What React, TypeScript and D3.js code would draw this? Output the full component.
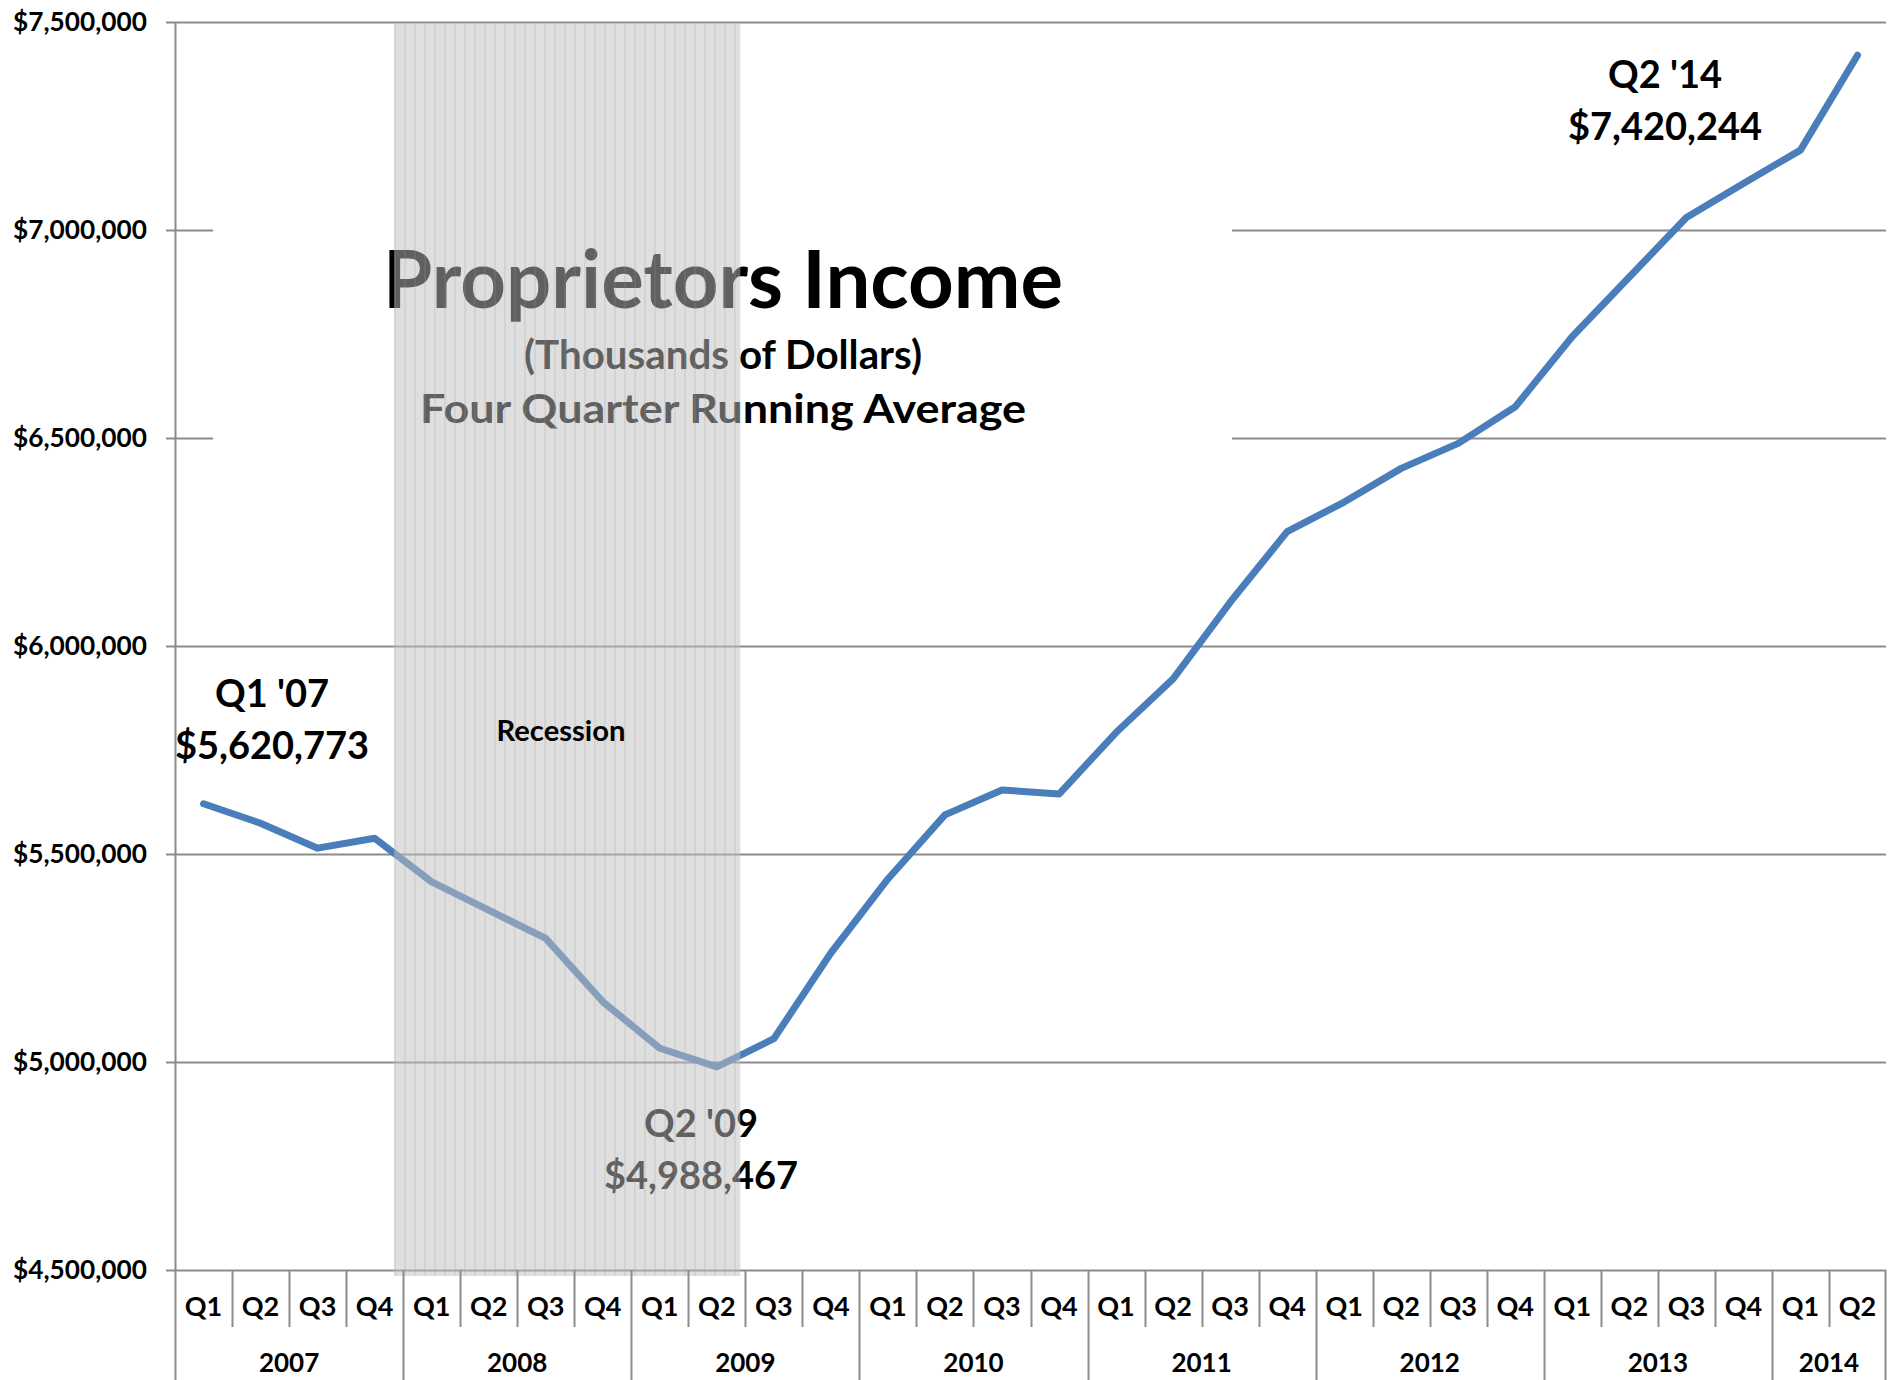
import React, { useRef, useEffect } from "react";
import * as d3 from "d3";

const years = ["2007", "2008", "2009", "2010", "2011", "2012", "2013", "2014"];
const quarterNames = ["Q1", "Q2", "Q3", "Q4"];
const quartersPerYear = [4, 4, 4, 4, 4, 4, 4, 2];

// four quarter running average, thousands of dollars
const incomeValues = [
  5620773, 5574000, 5514000, 5538000,
  5433000, 5365000, 5297000, 5145000,
  5033000, 4988467, 5056000, 5262000,
  5440000, 5594000, 5654000, 5644000,
  5792000, 5921000, 6105000, 6275000,
  6346000, 6427000, 6487000, 6575000,
  6744000, 6887000, 7030000, 7112000,
  7192000, 7420244,
];

const yTicks = [4500000, 5000000, 5500000, 6000000, 6500000, 7000000, 7500000];

const callouts = [
  { index: 0, lines: ["Q1 '07", "$5,620,773"], x: 272, y: 707 },
  { index: 9, lines: ["Q2 '09", "$4,988,467"], x: 701, y: 1137 },
  { index: 29, lines: ["Q2 '14", "$7,420,244"], x: 1665, y: 88 },
];

const FONT = "Lato, 'Open Sans', sans-serif";

const App: React.FC = () => {
  const svgRef = useRef<SVGSVGElement | null>(null);

  useEffect(() => {
    if (!svgRef.current) return;
    const width = 1896;
    const height = 1380;
    const left = 175;
    const right = 1886;
    const top = 22;
    const bottom = 1270;

    const svg = d3.select(svgRef.current);
    svg.selectAll("*").remove();

    const categories: { q: string; year: string; key: string }[] = [];
    years.forEach((yr, yi) => {
      for (let q = 0; q < quartersPerYear[yi]; q++) {
        categories.push({ q: quarterNames[q], year: yr, key: `${yr}-${quarterNames[q]}` });
      }
    });

    const x = d3
      .scaleBand<string>()
      .domain(categories.map((c) => c.key))
      .range([left, right])
      .paddingInner(0)
      .paddingOuter(0);

    const y = d3.scaleLinear().domain([4500000, 7500000]).range([bottom, top]);

    svg.append("rect").attr("width", width).attr("height", height).attr("fill", "#fff");

    const defs = svg.append("defs");
    const pat = defs
      .append("pattern")
      .attr("id", "recessionPattern")
      .attr("patternUnits", "userSpaceOnUse")
      .attr("width", 10)
      .attr("height", 10);
    pat.append("rect").attr("width", 10).attr("height", 10).attr("fill", "rgb(192,192,192)").attr("fill-opacity", 0.5);
    pat
      .append("line")
      .attr("x1", 5)
      .attr("x2", 5)
      .attr("y1", 0)
      .attr("y2", 10)
      .attr("stroke", "rgb(150,150,150)")
      .attr("stroke-opacity", 0.35)
      .attr("stroke-width", 1);

    // gridlines
    svg
      .append("g")
      .selectAll("line")
      .data(yTicks)
      .enter()
      .append("line")
      .attr("x1", left - 9)
      .attr("x2", right)
      .attr("y1", (d) => Math.round(y(d)) + 0.5)
      .attr("y2", (d) => Math.round(y(d)) + 0.5)
      .attr("stroke", "#8c8c8c")
      .attr("stroke-width", 2);

    // y labels
    svg
      .append("g")
      .selectAll("text")
      .data(yTicks)
      .enter()
      .append("text")
      .attr("x", 147)
      .attr("y", (d) => y(d))
      .attr("dy", "0.35em")
      .attr("text-anchor", "end")
      .attr("font-family", FONT)
      .attr("font-weight", "bold")
      .attr("font-size", 27)
      .attr("textLength", 134)
      .attr("lengthAdjust", "spacingAndGlyphs")
      .attr("fill", "#000")
      .text((d) => "$" + d3.format(",")(d));

    // title box
    svg.append("rect").attr("x", 213).attr("y", 195).attr("width", 1019).attr("height", 253).attr("fill", "#fff");
    const titleX = 723;
    const titleLines = [
      { text: "Proprietors Income", y: 308, size: 80, len: 680 },
      { text: "(Thousands of Dollars)", y: 369, size: 40, len: 398 },
      { text: "Four Quarter Running Average", y: 423, size: 41, len: 606 },
    ];
    titleLines.forEach((t) => {
      svg
        .append("text")
        .attr("x", titleX)
        .attr("y", t.y)
        .attr("text-anchor", "middle")
        .attr("font-family", FONT)
        .attr("font-weight", "bold")
        .attr("font-size", t.size)
        .attr("textLength", t.len)
        .attr("lengthAdjust", "spacingAndGlyphs")
        .text(t.text);
    });

    // the line
    const line = d3
      .line<number>()
      .x((d, i) => (x(categories[i].key) as number) + x.bandwidth() / 2)
      .y((d) => y(d));

    svg
      .append("path")
      .datum(incomeValues)
      .attr("d", line)
      .attr("fill", "none")
      .attr("stroke", "#4a7ebb")
      .attr("stroke-width", 7)
      .attr("stroke-linejoin", "round")
      .attr("stroke-linecap", "round");

    // callouts
    callouts.forEach((c) => {
      const t = svg
        .append("text")
        .attr("text-anchor", "middle")
        .attr("font-family", FONT)
        .attr("font-weight", "bold")
        .attr("font-size", 38);
      c.lines.forEach((ln, i) => {
        t.append("tspan").attr("x", c.x).attr("y", c.y + i * 52).text(ln);
      });
    });

    // recession overlay (2008 Q1 through 2009 Q2)
    const recStart = (x("2008-Q1") as number) - 9;
    const recEnd = (x("2009-Q2") as number) + x.bandwidth() - 5;
    svg
      .append("rect")
      .attr("x", recStart)
      .attr("y", 24)
      .attr("width", recEnd - recStart)
      .attr("height", 1276 - 24)
      .attr("fill", "url(#recessionPattern)");
    svg
      .append("text")
      .attr("x", 561)
      .attr("y", 741)
      .attr("text-anchor", "middle")
      .attr("font-family", FONT)
      .attr("font-weight", "bold")
      .attr("font-size", 29)
      .attr("textLength", 129)
      .attr("lengthAdjust", "spacingAndGlyphs")
      .text("Recession");

    // axes
    svg
      .append("line")
      .attr("x1", left + 0.5)
      .attr("x2", left + 0.5)
      .attr("y1", top)
      .attr("y2", height)
      .attr("stroke", "#8c8c8c")
      .attr("stroke-width", 2);

    const axisG = svg.append("g");
    axisG
      .selectAll("line.qsep")
      .data(categories.slice(1))
      .enter()
      .append("line")
      .attr("x1", (d) => Math.round(x(d.key) as number) + 0.5)
      .attr("x2", (d) => Math.round(x(d.key) as number) + 0.5)
      .attr("y1", bottom)
      .attr("y2", (d) => (d.q === "Q1" ? height : 1327))
      .attr("stroke", "#8c8c8c")
      .attr("stroke-width", 2);
    axisG
      .append("line")
      .attr("x1", right - 0.5)
      .attr("x2", right - 0.5)
      .attr("y1", bottom)
      .attr("y2", height)
      .attr("stroke", "#8c8c8c")
      .attr("stroke-width", 2);

    axisG
      .selectAll("text.q")
      .data(categories)
      .enter()
      .append("text")
      .attr("x", (d) => (x(d.key) as number) + x.bandwidth() / 2)
      .attr("y", 1307)
      .attr("dy", "0.35em")
      .attr("text-anchor", "middle")
      .attr("font-family", FONT)
      .attr("font-weight", "bold")
      .attr("font-size", 27)
      .text((d) => d.q);

    axisG
      .selectAll("text.yr")
      .data(years)
      .enter()
      .append("text")
      .attr("x", (d) => {
        const keys = categories.filter((c) => c.year === d);
        const a = x(keys[0].key) as number;
        const b = (x(keys[keys.length - 1].key) as number) + x.bandwidth();
        return (a + b) / 2;
      })
      .attr("y", 1363)
      .attr("dy", "0.35em")
      .attr("text-anchor", "middle")
      .attr("font-family", FONT)
      .attr("font-weight", "bold")
      .attr("font-size", 26)
      .text((d) => d);
  }, []);

  return (
    <svg
      ref={svgRef}
      width={1896}
      height={1380}
      style={{ position: "absolute", left: 0, top: 0, display: "block" }}
    ></svg>
  );
};

export default App;
